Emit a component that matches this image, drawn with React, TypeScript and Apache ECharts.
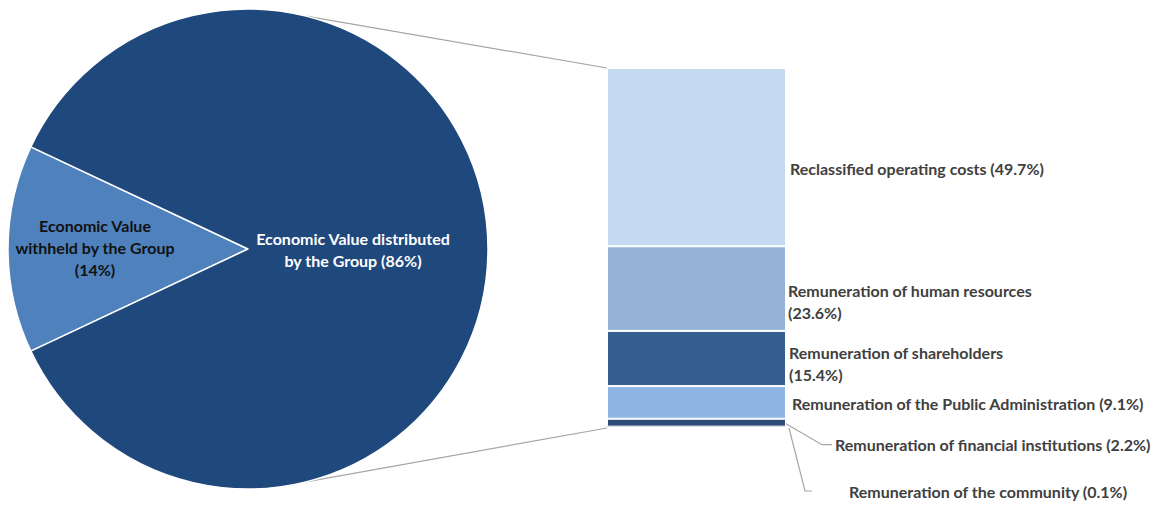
import React, { useEffect, useRef } from "react";
import * as echarts from "echarts";

// ---- data ----
const PIE_NAMES = ["Economic Value withheld by the Group", "Economic Value distributed by the Group"];
const PIE_VALUES = [14, 86];
const PIE_LABELS = ["Economic Value\nwithheld by the Group\n(14%)", "Economic Value distributed\nby the Group (86%)"];

// bar segments, bottom to top
const BAR_NAMES = [
  "Remuneration of the community",
  "Remuneration of financial institutions",
  "Remuneration of the Public Administration",
  "Remuneration of shareholders",
  "Remuneration of human resources",
  "Reclassified operating costs",
];
const BAR_VALUES = [0.1, 2.2, 9.1, 15.4, 23.6, 49.7];
const BAR_LABELS = [
  "Remuneration of the community (0.1%)",
  "Remuneration of financial institutions (2.2%)",
  "Remuneration of the Public Administration (9.1%)",
  "Remuneration of shareholders\n(15.4%)",
  "Remuneration of human resources\n(23.6%)",
  "Reclassified operating costs (49.7%)",
];

// ---- styles / layout ----
const PIE_COLORS = ["#4F81BD", "#1F497D"];
const PIE_LABEL_COLORS = ["#111111", "#FFFFFF"];
const PIE_LABEL_SHIFT: [number, number][] = [
  [-15, -1],
  [-9, 0],
];
const BAR_COLORS = ["#2E4C7A", "#2E4C7A", "#8DB4E2", "#365F91", "#95B3D7", "#C5D9F1"];
const LABEL_OFFSETS: [number, number][] = [
  [58, 65],
  [44, 22],
  [1, 1],
  [-2, 5],
  [-3, 13],
  [-1, 11],
];
const PIE_CX = 248;
const PIE_CY = 249;
const PIE_R = 240;
const GRID_LEFT = 607;
const GRID_WIDTH = 179;
const GRID_TOP = 68;
const GRID_HEIGHT = 359;
const FONT = "Lato, 'Liberation Sans', sans-serif";
const FONT_SIZE = 16;
const TEXT_COLOR = "#404040";
const LINE_COLOR = "#A6A6A6";

export default function App() {
  const ref = useRef<HTMLDivElement>(null);
  useEffect(() => {
    document.body.style.margin = "0";
    if (!ref.current) return;
    const chart = echarts.init(ref.current, undefined, { renderer: "svg" });
    const total = BAR_VALUES.reduce((a, b) => a + b, 0);
    const withheldAngle = (PIE_VALUES[0] / (PIE_VALUES[0] + PIE_VALUES[1])) * 360;

    const barSeries = BAR_VALUES.map((v, i) => ({
      type: "bar",
      name: BAR_NAMES[i],
      stack: "dist",
      data: [v],
      barWidth: "100%",
      itemStyle: { color: BAR_COLORS[i], borderColor: "#FFFFFF", borderWidth: i === 0 ? 0 : 1 },
      label: {
        show: true,
        position: "right",
        distance: 5,
        offset: LABEL_OFFSETS[i],
        formatter: () => BAR_LABELS[i],
        color: TEXT_COLOR,
        fontWeight: "bold",
        fontSize: FONT_SIZE,
        fontFamily: FONT,
        lineHeight: 22,
        align: "left",
      },
    }));

    chart.setOption({
      animation: false,
      grid: { left: GRID_LEFT, width: GRID_WIDTH, top: GRID_TOP, height: GRID_HEIGHT },
      xAxis: { type: "category", data: [""], show: false },
      yAxis: { type: "value", min: 0, max: total, show: false },
      series: [
        {
          type: "pie",
          center: [PIE_CX, PIE_CY],
          radius: PIE_R,
          startAngle: 180 + withheldAngle / 2,
          clockwise: true,
          silent: true,
          itemStyle: { borderColor: "#FFFFFF", borderWidth: 1.5 },
          label: {
            show: true,
            position: "inside",
            fontWeight: "bold",
            fontSize: FONT_SIZE,
            fontFamily: FONT,
            lineHeight: 22,
            align: "center",
          },
          labelLayout: (p: any) => ({ dx: PIE_LABEL_SHIFT[p.dataIndex][0], dy: PIE_LABEL_SHIFT[p.dataIndex][1] }),
          data: PIE_VALUES.map((v, i) => ({
            name: PIE_NAMES[i],
            value: v,
            itemStyle: { color: PIE_COLORS[i] },
            label: { formatter: PIE_LABELS[i], color: PIE_LABEL_COLORS[i] },
          })),
        },
        ...barSeries,
      ],
    });

    // connector and leader lines, computed from the scales
    const yTop = chart.convertToPixel({ yAxisIndex: 0 }, total) as number;
    const yBottom = chart.convertToPixel({ yAxisIndex: 0 }, 0) as number;
    const yFin = chart.convertToPixel({ yAxisIndex: 0 }, BAR_VALUES[0] + BAR_VALUES[1] / 2) as number;
    const barRight = GRID_LEFT + GRID_WIDTH;
    const a = (76 * Math.PI) / 180;
    const pTop = [PIE_CX + PIE_R * Math.cos(a), PIE_CY - PIE_R * Math.sin(a)];
    const pBot = [PIE_CX + PIE_R * Math.cos(a), PIE_CY + PIE_R * Math.sin(a)];
    const finY = yFin + LABEL_OFFSETS[1][1];
    const comY = yBottom + LABEL_OFFSETS[0][1] - 1;
    const lineStyle = { stroke: LINE_COLOR, lineWidth: 1.2, fill: null };
    chart.setOption({
      graphic: [
        { type: "line", silent: true, shape: { x1: pTop[0], y1: pTop[1], x2: GRID_LEFT, y2: yTop }, style: lineStyle },
        { type: "line", silent: true, shape: { x1: pBot[0], y1: pBot[1], x2: GRID_LEFT, y2: yBottom + 1 }, style: lineStyle },
        {
          type: "polyline",
          silent: true,
          shape: { points: [[barRight, yFin + 1], [barRight + LABEL_OFFSETS[1][0] - 8, finY], [barRight + LABEL_OFFSETS[1][0] + 2, finY]] },
          style: lineStyle,
        },
        {
          type: "polyline",
          silent: true,
          shape: { points: [[barRight + 3, yBottom + 1], [barRight + 19, comY], [barRight + 26, comY]] },
          style: lineStyle,
        },
      ],
    });

    return () => chart.dispose();
  }, []);
  return <div ref={ref} style={{ width: 1166, height: 507 }} />;
}
